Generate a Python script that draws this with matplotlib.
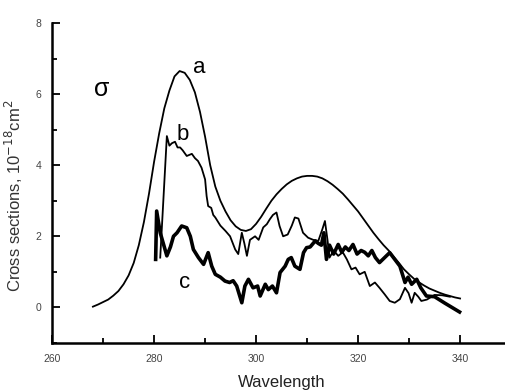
import numpy as np
import matplotlib.pyplot as plt
from matplotlib.ticker import MultipleLocator

plt.rcParams['font.family'] = ['Liberation Sans', 'DejaVu Sans']

# curve a: smooth spectrum, 1 nm steps
wl_a = np.arange(268, 341)
sig_a = [0.02, 0.08, 0.15, 0.22, 0.33, 0.46, 0.65, 0.9, 1.25, 1.75,
         2.4, 3.2, 4.1, 4.9, 5.6, 6.1, 6.5, 6.65, 6.6, 6.4,
         6.05, 5.5, 4.8, 4.0, 3.4, 3.0, 2.7, 2.45, 2.28, 2.18,
         2.15, 2.2, 2.35, 2.55, 2.78, 3.0, 3.18, 3.33, 3.46, 3.56,
         3.63, 3.68, 3.7, 3.7, 3.68, 3.63, 3.55, 3.45, 3.33, 3.2,
         3.04, 2.87, 2.7, 2.5, 2.3, 2.1, 1.92, 1.75, 1.6, 1.42,
         1.25, 1.07, 0.93, 0.8, 0.7, 0.61, 0.53, 0.47, 0.41, 0.36,
         0.32, 0.28, 0.25]

# curve b
wl_b = [281.2, 282.5, 283.0, 283.5, 284.1, 284.6, 285.1, 285.6, 286.4, 287.4,
        288.0, 288.6, 289.3, 290.0, 290.3, 290.6, 291.2, 291.6, 292.0, 293.0,
        294.0, 294.9, 295.9, 296.5, 297.2, 297.7, 298.2, 298.8, 299.8, 300.5,
        301.4, 302.1, 302.7, 303.3, 304.0, 304.6, 305.3, 306.2, 307.0, 307.6,
        308.3, 309.2, 310.2, 311.2, 312.2, 313.0, 313.5, 314.0, 314.4, 315.2,
        316.1, 317.0, 317.8, 318.7, 319.5, 320.3, 321.3, 322.3, 323.3, 324.2,
        325.2, 326.2, 327.2, 328.2, 329.2, 329.9, 330.5, 331.1, 331.8, 332.4,
        333.5, 335.0, 336.5, 338.0]
sig_b = [1.4, 4.82, 4.55, 4.62, 4.66, 4.5, 4.5, 4.42, 4.26, 4.32,
         4.2, 4.12, 3.93, 3.6, 3.13, 2.85, 2.8, 2.6, 2.53, 2.3,
         2.15, 2.0, 1.63, 1.5, 2.1, 1.8, 1.45, 1.9, 2.0, 1.9,
         2.25, 2.34, 2.48, 2.6, 2.67, 2.29, 2.0, 2.05, 2.3, 2.53,
         2.5, 2.1, 1.96, 1.9, 1.87, 2.2, 2.43, 1.9, 1.4, 1.6,
         1.45, 1.55, 1.35, 1.07, 1.12, 0.93, 1.0, 0.6, 0.7, 0.55,
         0.37, 0.18, 0.13, 0.23, 0.55, 0.4, 0.13, 0.41, 0.3, 0.18,
         0.22, 0.35, 0.34, 0.3]

# curve c
wl_c = [280.3, 280.5, 281.2, 281.8, 282.5, 283.2, 283.8, 284.5, 285.4, 286.4,
        287.1, 287.7, 288.7, 289.7, 290.6, 291.3, 292.0, 293.0, 293.9, 294.8,
        295.5, 296.2, 297.2, 297.8, 298.5, 299.4, 300.3, 300.8, 301.8, 302.4,
        303.2, 304.0, 304.7, 305.7, 306.3, 306.9, 307.6, 308.6, 309.3, 309.9,
        310.6, 311.6, 312.2, 312.8, 313.3, 313.8, 314.4, 315.2, 316.1, 316.8,
        317.5, 318.2, 319.0, 319.8, 320.6, 321.3, 322.0, 322.7, 323.4, 324.2,
        325.2, 326.2, 327.2, 328.2, 329.2, 329.8, 330.5, 331.5, 332.3, 333.4,
        335.0, 337.0, 339.9]
sig_c = [1.35, 2.71, 2.1, 1.8, 1.45, 1.7, 2.0, 2.1, 2.29, 2.24,
         2.0, 1.63, 1.4, 1.21, 1.54, 1.16, 0.93, 0.85, 0.74, 0.7,
         0.75, 0.6, 0.13, 0.6, 0.79, 0.55, 0.6, 0.32, 0.65, 0.5,
         0.6, 0.41, 0.98, 1.16, 1.35, 1.4, 1.16, 1.07, 1.54, 1.68,
         1.7, 1.87, 1.8, 1.75, 2.1, 1.35, 1.75, 1.5, 1.77, 1.55,
         1.7, 1.6, 1.77, 1.5, 1.6, 1.55, 1.45, 1.6, 1.4, 1.26,
         1.4, 1.54, 1.35, 1.16, 0.7, 0.85, 0.65, 0.79, 0.55, 0.32,
         0.3, 0.12, -0.13]

fig = plt.figure(figsize=(5.06, 3.91), dpi=100)
ax = fig.add_axes([0.103, 0.123, 0.907, 0.818])

ax.plot(wl_a, sig_a, color='black', lw=1.3)
ax.plot(wl_b, sig_b, color='black', lw=1.3)
ax.plot(wl_c, sig_c, color='black', lw=2.6)

ax.set_xlim(260, 350)
ax.set_ylim(-1, 8)
ax.xaxis.set_major_locator(MultipleLocator(20))
ax.xaxis.set_minor_locator(MultipleLocator(10))
ax.yaxis.set_major_locator(MultipleLocator(2))
ax.yaxis.set_minor_locator(MultipleLocator(1))
ax.set_xticks([260, 280, 300, 320, 340])

for s in ['top', 'right']:
    ax.spines[s].set_visible(False)
for s in ['left', 'bottom']:
    ax.spines[s].set_linewidth(1.8)

ax.tick_params(which='major', direction='in', length=6, width=1.3,
               labelsize=7.5, labelcolor='#444444', pad=8)
ax.tick_params(which='minor', direction='in', length=3.5, width=1.3)

ax.set_xlabel('Wavelength', fontsize=12, color='#222222', labelpad=8)
ax.set_ylabel('Cross sections, 10$^{-18}$cm$^2$', fontsize=12,
              color='#333333')
ax.yaxis.set_label_coords(-0.058, 0.46)

ax.text(287.6, 6.6, 'a', fontsize=16)
ax.text(284.4, 4.7, 'b', fontsize=16)
ax.text(284.8, 0.55, 'c', fontsize=16)
ax.text(268.2, 5.95, 'σ', fontsize=18)

fig.savefig('out.png', dpi=100)
